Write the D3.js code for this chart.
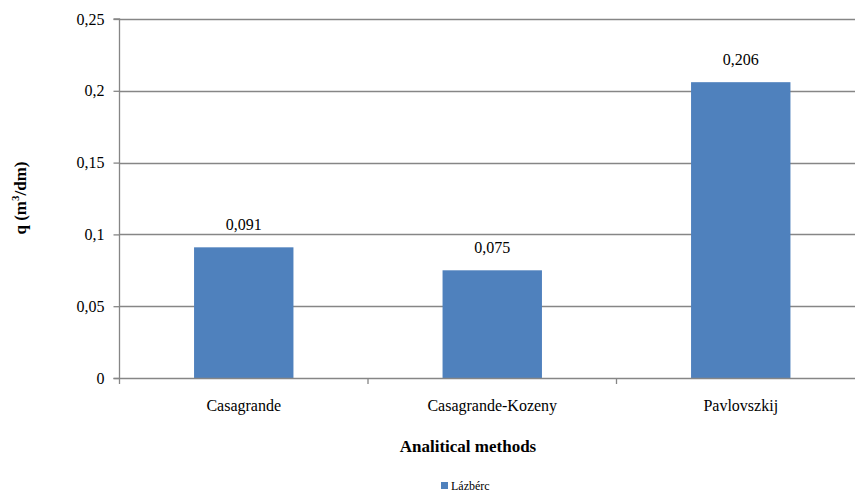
<!DOCTYPE html>
<html><head><meta charset="utf-8">
<script src="https://cdn.jsdelivr.net/npm/d3@7"></script>
<style>body{margin:0;background:#fff}svg{display:block}</style>
</head><body><svg id="c" width="855" height="495"></svg>
<script>
const categories = ["Casagrande", "Casagrande-Kozeny", "Pavlovszkij"];
const values = [0.091, 0.075, 0.206];
const valueLabels = ["0,091", "0,075", "0,206"];
const yTicks = [0, 0.05, 0.1, 0.15, 0.2, 0.25];
const yTickLabels = ["0", "0,05", "0,1", "0,15", "0,2", "0,25"];
const seriesName = "Lázbérc";

const FONT = "Liberation Serif";
const svg = d3.select("#c").style("font-family", FONT);
const m = {left: 119.5, right: 865, top: 19, bottom: 378};
const x = d3.scaleBand().domain(categories).range([m.left, m.right]).paddingInner(0.6).paddingOuter(0.3);
const xb = d3.scaleBand().domain(categories).range([m.left, m.right]);
const y = d3.scaleLinear().domain([0, 0.25]).range([m.bottom, m.top]);
const grey = "#868686";

svg.append("g").selectAll("line").data(yTicks.slice(1)).join("line")
  .attr("x1", m.left).attr("x2", 855).attr("y1", d => Math.round(y(d)) + 0.5).attr("y2", d => Math.round(y(d)) + 0.5)
  .attr("stroke", grey).attr("stroke-width", 1.3);

svg.append("g").selectAll("rect").data(values).join("rect")
  .attr("x", (d, i) => x(categories[i])).attr("width", x.bandwidth())
  .attr("y", d => y(d)).attr("height", d => y(0) - y(d))
  .attr("fill", "#4F81BD");

svg.append("g").selectAll("text").data(values).join("text")
  .style("font-family", FONT)
  .attr("x", (d, i) => x(categories[i]) + x.bandwidth() / 2)
  .attr("y", d => y(d) - 17)
  .attr("text-anchor", "middle").attr("font-size", 16).attr("fill", "#000")
  .text((d, i) => valueLabels[i]);

const yAxis = d3.axisLeft(y).tickValues(yTicks).tickFormat((d, i) => yTickLabels[i]).tickSize(6).tickPadding(9);
const gy = svg.append("g").attr("transform", `translate(${m.left},0)`).call(yAxis).attr("font-family", null);
gy.select(".domain").attr("stroke", grey).attr("stroke-width", 1.3).attr("d", `M-6,${m.top}H0V${m.bottom}`);
gy.selectAll(".tick line").attr("stroke", grey).attr("stroke-width", 1.3);
gy.selectAll(".tick text").attr("font-size", 16).attr("fill", "#000").style("font-family", FONT);

svg.append("line").attr("x1", m.left - 6).attr("x2", 855).attr("y1", m.bottom + 0.5).attr("y2", m.bottom + 0.5)
  .attr("stroke", grey).attr("stroke-width", 1.5);
const bounds = categories.map(c => xb(c)).concat([m.right]);
svg.append("g").selectAll("line").data(bounds).join("line")
  .attr("x1", d => d).attr("x2", d => d).attr("y1", m.bottom).attr("y2", m.bottom + 6)
  .attr("stroke", grey).attr("stroke-width", 1.3);
svg.append("g").selectAll("text").data(categories).join("text")
  .style("font-family", FONT)
  .attr("x", d => x(d) + x.bandwidth() / 2).attr("y", 411)
  .attr("text-anchor", "middle").attr("font-size", 16).attr("fill", "#000").text(d => d);

svg.append("text").style("font-family", FONT).attr("x", 468).attr("y", 452).attr("text-anchor", "middle")
  .attr("font-size", 17).attr("font-weight", "bold").text("Analitical methods");
const yt = svg.append("text").style("font-family", FONT).attr("transform", "translate(26,198) rotate(-90)").attr("text-anchor", "middle")
  .attr("font-size", 17).attr("font-weight", "bold");
yt.append("tspan").text("q (m");
yt.append("tspan").attr("font-size", 11).attr("dy", -7).text("3");
yt.append("tspan").attr("dy", 7).text("/dm)");

svg.append("rect").attr("x", 441).attr("y", 482).attr("width", 7).attr("height", 7).attr("fill", "#4F81BD");
svg.append("text").style("font-family", FONT).attr("x", 451).attr("y", 490).attr("font-size", 12).attr("fill", "#000").text(seriesName);
</script></body></html>
